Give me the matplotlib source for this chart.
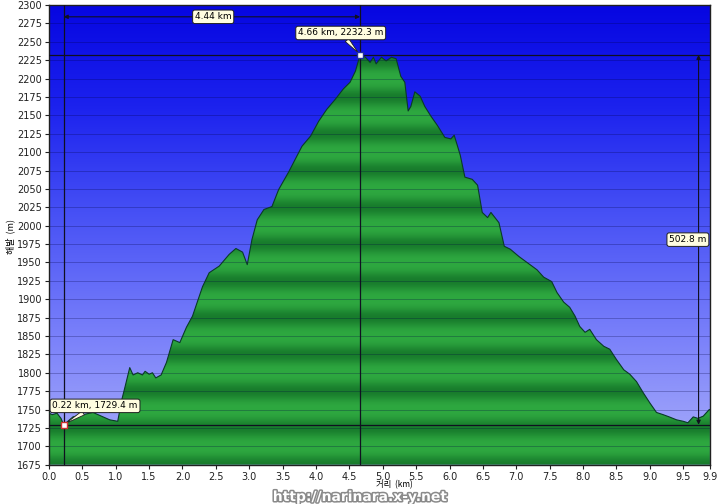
import numpy as np
import matplotlib
matplotlib.use("Agg")
import matplotlib.pyplot as plt
import matplotlib.patheffects as pe
from matplotlib.patches import Polygon

# ---------------- data ----------------
dist = [0.00, 0.05, 0.12, 0.18, 0.22, 0.27, 0.36, 0.51, 0.66, 0.81, 0.91, 1.03,
        1.09, 1.14, 1.21, 1.26, 1.33, 1.40, 1.44, 1.50, 1.55, 1.60, 1.68, 1.76,
        1.86, 1.96, 2.06, 2.15, 2.30, 2.40, 2.55, 2.70, 2.80, 2.90, 2.97, 3.04,
        3.12, 3.22, 3.34, 3.44, 3.59, 3.71, 3.79, 3.92, 4.04, 4.16, 4.29, 4.41,
        4.51, 4.59, 4.66, 4.74, 4.81, 4.86, 4.90, 4.98, 5.05, 5.13, 5.20, 5.27,
        5.33, 5.38, 5.42, 5.48, 5.56, 5.63, 5.72, 5.82, 5.93, 6.02, 6.07, 6.16,
        6.23, 6.34, 6.42, 6.49, 6.57, 6.62, 6.74, 6.82, 6.91, 7.04, 7.16, 7.31,
        7.41, 7.53, 7.61, 7.71, 7.80, 7.88, 7.95, 8.03, 8.10, 8.20, 8.31, 8.40,
        8.50, 8.61, 8.70, 8.80, 8.90, 9.00, 9.10, 9.20, 9.29, 9.40, 9.50, 9.57,
        9.65, 9.72, 9.80, 9.89, 9.90]
elev = [1745, 1743, 1745, 1738, 1729.4, 1733, 1740, 1743, 1746, 1740, 1736, 1734,
        1763, 1781, 1807, 1797, 1800, 1797, 1802, 1798, 1800, 1793, 1797, 1814,
        1845, 1841, 1862, 1877, 1917, 1936, 1945, 1961, 1969, 1964, 1947, 1981,
        2008, 2022, 2026, 2049, 2073, 2094, 2108, 2122, 2142, 2158, 2172, 2186,
        2195, 2210, 2232.3, 2229, 2222, 2229, 2220, 2229, 2224, 2229, 2227, 2203,
        2195, 2156, 2162, 2182, 2176, 2162, 2149, 2136, 2120, 2118, 2123, 2096,
        2066, 2063, 2055, 2018, 2011, 2018, 2004, 1972, 1968, 1958, 1950, 1940,
        1930, 1924, 1909, 1896, 1889, 1877, 1863, 1855, 1859, 1845, 1836, 1832,
        1818, 1804, 1798, 1788, 1773, 1759, 1746, 1743, 1740, 1736, 1734, 1732,
        1740, 1738, 1741, 1750, 1750]

x_ticks = [0.0, 0.5, 1.0, 1.5, 2.0, 2.5, 3.0, 3.5, 4.0, 4.5, 5.0, 5.5, 6.0, 6.5,
           7.0, 7.5, 8.0, 8.5, 9.0, 9.5, 9.9]
y_ticks = list(range(1675, 2301, 25))

low_pt = (0.22, 1729.4)
high_pt = (4.66, 2232.3)
dist_label = "4.44 km"
climb_label = "502.8 m"
high_label = "4.66 km, 2232.3 m"
low_label = "0.22 km, 1729.4 m"
xlabel = "거리  (km)"
ylabel = "해발  (m)"
watermark = "http://narinara.x-y.net"

plt.rcParams['font.family'] = ['DejaVu Sans', 'Noto Sans CJK KR']

XMIN, XMAX, YMIN, YMAX = 0.0, 9.9, 1675, 2300

fig = plt.figure(figsize=(7.2, 5.04), dpi=100)
fig.patch.set_facecolor('white')
ax = fig.add_axes([0.068, 0.078, 0.918, 0.912])
ax.set_xlim(XMIN, XMAX)
ax.set_ylim(YMIN, YMAX)

# background gradient (blue)
ny = 600
ys = np.linspace(YMIN, YMAX, ny)
t = (ys - YMIN) / (YMAX - YMIN)
tp = [0.0, 0.3, 0.55, 0.78, 1.0]
rr = [172, 118, 70, 28, 6]
gg = [176, 125, 80, 34, 6]
bb = [250, 250, 245, 238, 225]
bg = np.zeros((ny, 2, 3))
bg[:, :, 0] = np.interp(t, tp, rr)[:, None] / 255
bg[:, :, 1] = np.interp(t, tp, gg)[:, None] / 255
bg[:, :, 2] = np.interp(t, tp, bb)[:, None] / 255
ax.imshow(bg, extent=[XMIN, XMAX, YMIN, YMAX], origin='lower', aspect='auto',
          zorder=0, interpolation='bilinear')

# green banded fill
phase = ((ys - 1725) % 50) / 50.0
f = 0.5 * (1 + np.cos(2 * np.pi * phase))
f = f ** 1.5
light = np.array([46, 168, 64]) / 255
dark = np.array([24, 124, 44]) / 255
gimg = np.zeros((ny, 2, 3))
gimg[:, :, :] = (light[None, :] * (1 - f[:, None]) + dark[None, :] * f[:, None])[:, None, :]
im = ax.imshow(gimg, extent=[XMIN, XMAX, YMIN, YMAX], origin='lower', aspect='auto',
               zorder=1, interpolation='bilinear')
verts = [(dist[0], YMIN)] + list(zip(dist, elev)) + [(dist[-1], YMIN)]
poly = Polygon(verts, closed=True, facecolor='none', edgecolor='none', transform=ax.transData)
ax.add_patch(poly)
im.set_clip_path(poly)
ax.plot(dist, elev, color='#0a3a28', lw=0.8, zorder=3)

# grid lines
for yv in y_ticks:
    ax.axhline(yv, color='#000040', lw=0.6, alpha=0.3, zorder=2)

# reference lines
for xv in (low_pt[0], high_pt[0]):
    ax.axvline(xv, color='#101020', lw=0.9, zorder=4)
for yv in (low_pt[1], high_pt[1]):
    ax.axhline(yv, color='#101020', lw=0.9, zorder=4)

box = dict(boxstyle='round,pad=0.25,rounding_size=0.25', fc='#fffde0', ec='#202020', lw=0.7)

# distance arrow
ax.annotate('', xy=(high_pt[0], 2284), xytext=(low_pt[0], 2284),
            arrowprops=dict(arrowstyle='<|-|>', color='#101020', lw=0.8,
                            mutation_scale=6, shrinkA=0, shrinkB=0), zorder=5)
ax.text(2.46, 2284, dist_label, fontsize=6.5, ha='center', va='center', bbox=box, zorder=6)

# climb arrow
ax.annotate('', xy=(9.73, low_pt[1]), xytext=(9.73, high_pt[1]),
            arrowprops=dict(arrowstyle='<|-|>', color='#101020', lw=0.8,
                            mutation_scale=6, shrinkA=0, shrinkB=0), zorder=5)
ax.text(9.57, 1981, climb_label, fontsize=6.5, ha='center', va='center', bbox=box, zorder=6)

# point labels
ax.annotate(high_label, xy=high_pt, xytext=(4.37, 2262), fontsize=6.5, ha='center',
            va='center', bbox=box, zorder=6,
            arrowprops=dict(arrowstyle='wedge,tail_width=0.5', fc='#fffde0', ec='#202020',
                            lw=0.6, shrinkA=0, shrinkB=2))
ax.annotate(low_label, xy=low_pt, xytext=(0.69, 1755), fontsize=6.5, ha='center',
            va='center', bbox=box, zorder=6,
            arrowprops=dict(arrowstyle='wedge,tail_width=0.5', fc='#fffde0', ec='#202020',
                            lw=0.6, shrinkA=0, shrinkB=2))

ax.plot([high_pt[0]], [high_pt[1]], marker='s', ms=4, mfc='white', mec='#2030a0', mew=1, zorder=7)
ax.plot([low_pt[0]], [low_pt[1]], marker='s', ms=4, mfc='white', mec='#d03030', mew=1, zorder=7)

# axes styling
ax.set_xticks(x_ticks)
ax.set_xticklabels([f"{v:.1f}" for v in x_ticks])
ax.set_yticks(y_ticks)
ax.set_yticklabels([str(v) for v in y_ticks])
ax.tick_params(axis='both', labelsize=7, length=3, width=0.8, direction='out',
               colors='#202020', pad=2)
for s in ax.spines.values():
    s.set_color('#202020')
    s.set_linewidth(1.0)

fig.text(0.548, 0.038, xlabel, fontsize=6, ha='center', va='center',
         family=['Noto Sans CJK KR', 'DejaVu Sans'])
fig.text(0.014, 0.53, ylabel, fontsize=6.5, ha='center', va='center', rotation=90,
         family=['Noto Sans CJK KR', 'DejaVu Sans'])
fig.text(0.50, 0.0, watermark, fontsize=10, ha='center', va='bottom', color='white',
         fontweight='bold',
         path_effects=[pe.withStroke(linewidth=2.2, foreground='#8a8a8a')])

fig.savefig('out.png', dpi=100)
